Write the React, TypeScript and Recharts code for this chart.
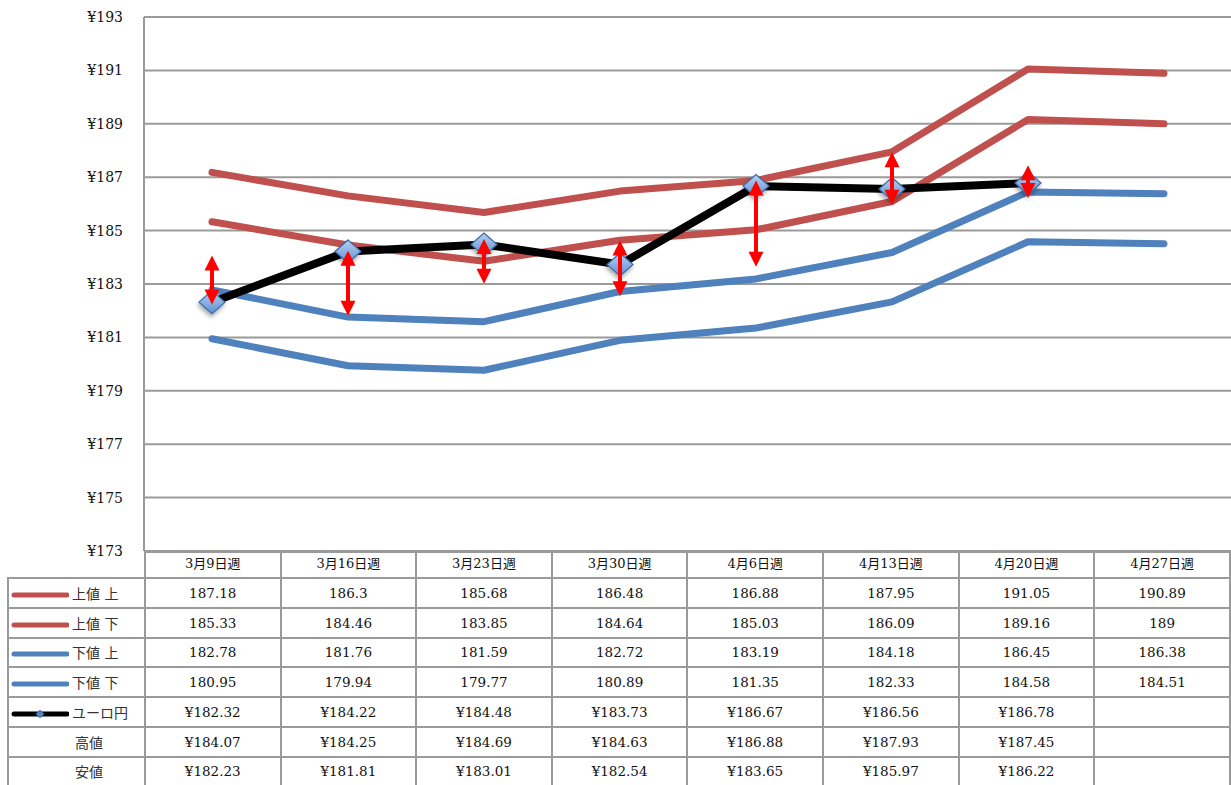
import { ComposedChart, Line, Bar, XAxis, YAxis, CartesianGrid } from 'recharts'

// 週ごとの予想レンジとユーロ円の実績
const weeks = ['3月9日週', '3月16日週', '3月23日週', '3月30日週', '4月6日週', '4月13日週', '4月20日週', '4月27日週']
const upperHigh = [187.18, 186.3, 185.68, 186.48, 186.88, 187.95, 191.05, 190.89]
const upperLow = [185.33, 184.46, 183.85, 184.64, 185.03, 186.09, 189.16, 189]
const lowerHigh = [182.78, 181.76, 181.59, 182.72, 183.19, 184.18, 186.45, 186.38]
const lowerLow = [180.95, 179.94, 179.77, 180.89, 181.35, 182.33, 184.58, 184.51]
const eurJpy: (number | null)[] = [182.32, 184.22, 184.48, 183.73, 186.67, 186.56, 186.78, null]
const highs: (number | null)[] = [184.07, 184.25, 184.69, 184.63, 186.88, 187.93, 187.45, null]
const lows: (number | null)[] = [182.23, 181.81, 183.01, 182.54, 183.65, 185.97, 186.22, null]
const yTicks = [173, 175, 177, 179, 181, 183, 185, 187, 189, 191, 193]

const RED = '#C0504D'
const BLUE = '#4F81BD'
const GRID = '#9a9a9a'
const FONT = '"DejaVu Serif", "Noto Sans CJK JP", serif'

const data = weeks.map((w, i) => ({
  week: w,
  upperHigh: upperHigh[i],
  upperLow: upperLow[i],
  lowerHigh: lowerHigh[i],
  lowerLow: lowerLow[i],
  eurJpy: eurJpy[i],
  high: highs[i],
  low: lows[i],
}))

const yen = (v: number | null) => (v == null ? '' : `¥${v.toFixed(2)}`)

// 青いひし形マーカー
function Diamond(props: any) {
  const { cx, cy, index } = props
  if (cx == null || cy == null) return <g key={`d-${index}`} />
  const rx = 13
  const ry = 11.5
  return (
    <g key={`d-${index}`} filter="url(#mkShadow)">
      <polygon
        points={`${cx},${cy - ry} ${cx + rx},${cy} ${cx},${cy + ry} ${cx - rx},${cy}`}
        fill="url(#mkGrad)"
        stroke="#3A6BA5"
        strokeWidth={1.2}
      />
    </g>
  )
}

// 高値〜安値の両矢印
function RangeArrow(props: any) {
  const { x, y, width, height } = props
  if (x == null || y == null || !height) return <g />
  const cx = x + width / 2
  const top = y
  const bot = y + height
  const hw = 7.5
  const hh = 15
  return (
    <g>
      <rect x={cx - 2} y={top + hh - 2} width={4} height={Math.max(0, bot - top - 2 * hh + 4)} fill="#FF0000" />
      <polygon points={`${cx},${top} ${cx + hw},${top + hh} ${cx - hw},${top + hh}`} fill="#FF0000" />
      <polygon points={`${cx},${bot} ${cx + hw},${bot - hh} ${cx - hw},${bot - hh}`} fill="#FF0000" />
    </g>
  )
}

function LegendKey({ color, marker }: { color: string; marker?: boolean }) {
  return (
    <svg width={60} height={12} style={{ verticalAlign: 'middle', marginRight: 3 }}>
      <line x1={5} y1={6} x2={58} y2={6} stroke={color} strokeWidth={5} strokeLinecap="round" />
      {marker && <polygon points="31,2 35,6 31,10 27,6" fill="#4F81BD" stroke="#3A6BA5" strokeWidth={0.8} />}
    </svg>
  )
}

const rows: { label: string; key?: { color: string; marker?: boolean }; cells: string[] }[] = [
  { label: '上値 上', key: { color: RED }, cells: upperHigh.map(String) },
  { label: '上値 下', key: { color: RED }, cells: upperLow.map(String) },
  { label: '下値 上', key: { color: BLUE }, cells: lowerHigh.map(String) },
  { label: '下値 下', key: { color: BLUE }, cells: lowerLow.map(String) },
  { label: 'ユーロ円', key: { color: '#000', marker: true }, cells: eurJpy.map(yen) },
  { label: '高値', cells: highs.map(yen) },
  { label: '安値', cells: lows.map(yen) },
]

const border = `2px solid ${GRID}`

export default function App() {
  return (
    <div style={{ position: 'absolute', left: 0, top: 0, width: 1231, height: 785, background: '#fff', overflow: 'hidden', fontFamily: FONT }}>
      <ComposedChart width={1232} height={580} data={data} margin={{ top: 17, right: 0, bottom: 29, left: 0 }}>
        <defs>
          <linearGradient id="mkGrad" x1="0" y1="0" x2="0" y2="1">
            <stop offset="0%" stopColor="#B9D0F2" />
            <stop offset="100%" stopColor="#5F8FD0" />
          </linearGradient>
          <filter id="mkShadow" x="-50%" y="-50%" width="200%" height="200%">
            <feDropShadow dx={-1} dy={3} stdDeviation={2} floodColor="#000" floodOpacity={0.35} />
          </filter>
        </defs>
        <CartesianGrid vertical={false} stroke={GRID} strokeWidth={2} />
        <XAxis dataKey="week" hide />
        <YAxis
          width={144}
          domain={[173, 193]}
          ticks={yTicks}
          tickFormatter={(v) => `¥${v}`}
          tickLine={false}
          tickSize={0}
          tickMargin={21}
          axisLine={{ stroke: GRID, strokeWidth: 2 }}
          tick={{ fill: '#111', fontSize: 14, fontFamily: FONT }}
          interval={0}
        />
        <Line dataKey="upperHigh" stroke={RED} strokeWidth={7} strokeLinecap="round" strokeLinejoin="round" dot={false} activeDot={false} isAnimationActive={false} />
        <Line dataKey="upperLow" stroke={RED} strokeWidth={7} strokeLinecap="round" strokeLinejoin="round" dot={false} activeDot={false} isAnimationActive={false} />
        <Line dataKey="lowerHigh" stroke={BLUE} strokeWidth={7} strokeLinecap="round" strokeLinejoin="round" dot={false} activeDot={false} isAnimationActive={false} />
        <Line dataKey="lowerLow" stroke={BLUE} strokeWidth={7} strokeLinecap="round" strokeLinejoin="round" dot={false} activeDot={false} isAnimationActive={false} />
        <Line dataKey="eurJpy" stroke="#000" strokeWidth={8} strokeLinejoin="round" dot={Diamond} activeDot={false} isAnimationActive={false} />
        <Bar
          dataKey={(d: any) => (d.low == null ? null : [d.low, d.high])}
          barSize={10}
          shape={RangeArrow}
          zIndex={900}
          isAnimationActive={false}
        />
      </ComposedChart>
      <table
        style={{
          position: 'absolute',
          left: 7,
          top: 551,
          borderCollapse: 'collapse',
          tableLayout: 'fixed',
          fontFamily: FONT,
          fontSize: 13.5,
          color: '#111',
        }}
      >
        <colgroup>
          <col style={{ width: 137 }} />
          {weeks.map((w) => (
            <col key={w} style={{ width: 136 }} />
          ))}
        </colgroup>
        <tbody>
          <tr style={{ height: 26 }}>
            <td style={{ borderRight: border, borderBottom: border, padding: 0 }} />
            {weeks.map((w) => (
              <td key={w} style={{ border, textAlign: 'center', padding: '0 0 2px 0', fontSize: 13, lineHeight: '20px' }}>
                {w}
              </td>
            ))}
          </tr>
          {rows.map((r) => (
            <tr key={r.label} style={{ height: 29.75 }}>
              <td style={{ border, padding: 0, paddingLeft: r.key ? 0 : 66, whiteSpace: 'nowrap', fontSize: 14, color: '#333' }}>
                {r.key && <LegendKey color={r.key.color} marker={r.key.marker} />}
                {r.label}
              </td>
              {r.cells.map((c, i) => (
                <td key={i} style={{ border, textAlign: 'center', padding: 0 }}>
                  {c}
                </td>
              ))}
            </tr>
          ))}
        </tbody>
      </table>
    </div>
  )
}
